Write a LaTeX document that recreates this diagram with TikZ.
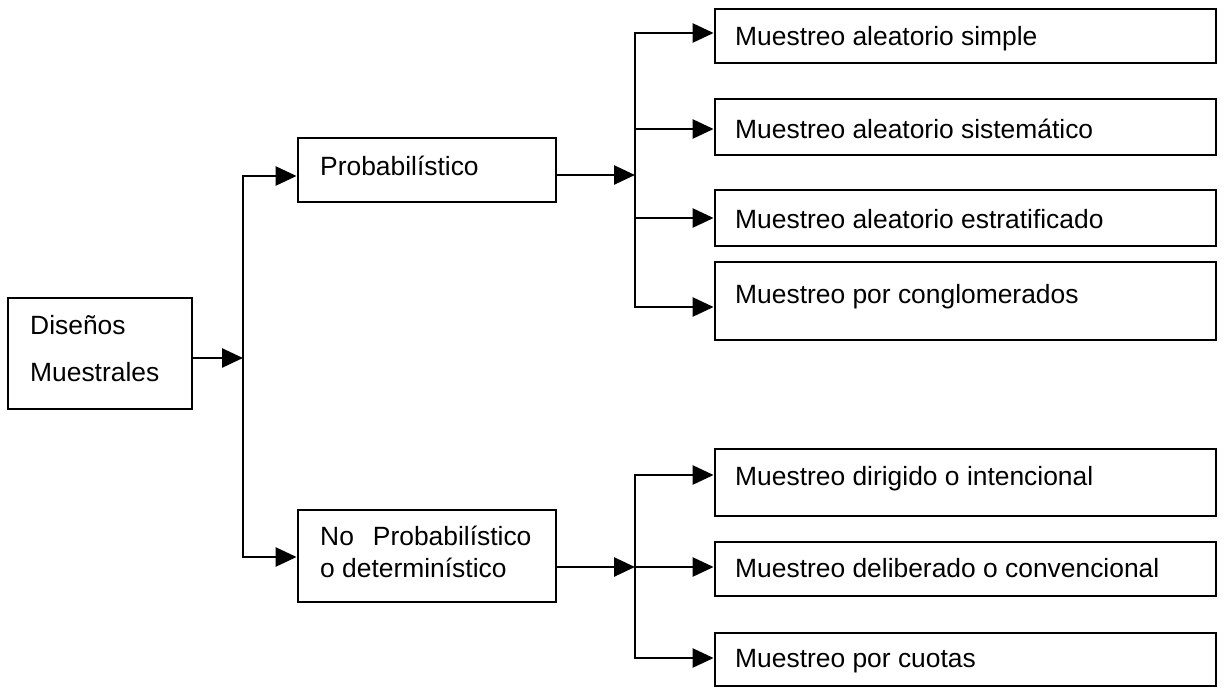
\documentclass[tikz,border=0pt]{standalone}
\usepackage{fontspec}
\setmainfont{Liberation Sans}
\usetikzlibrary{arrows.meta}

\tikzset{
  box/.style={draw=black, line width=2.8pt, inner sep=0pt, anchor=center},
  lbl/.style={font=\fontsize{26.4}{32}\selectfont, inner sep=0pt, anchor=base west},
  wire/.style={draw=black, line width=2.6pt},
  tip/.tip={Triangle[length=21pt,width=19pt]},
  arr/.style={wire, -tip},
  arrs/.style={wire, tip-tip}
}

\begin{document}
\begin{tikzpicture}[x=1pt,y=-1pt]
\useasboundingbox (0,0) rectangle (1231,688);

% root
\node[box, minimum width=184pt, minimum height=111pt] (D) at (100,353.5) {};
\node[lbl] (Dt1) at (30,334) {Diseños};
\node[lbl] (Dt2) at (30,381) {Muestrales};

% second level
\node[box, minimum width=258pt, minimum height=64pt] (P) at (427,170) {};
\node[lbl] (Pt) at (320,175) {Probabilístico};
\node[box, minimum width=258pt, minimum height=92pt] (N) at (427,556) {};
\node[lbl] (Nt1) at (320,545) {No\hspace{19pt}Probabilístico};
\node[lbl] (Nt2) at (320,577) {o determinístico};

% probabilistic designs
\node[box, minimum width=501pt, minimum height=54pt] (B1) at (965.5,36) {};
\node[lbl] (B1t) at (735,45) {Muestreo aleatorio simple};
\node[box, minimum width=501pt, minimum height=56pt] (B2) at (965.5,127) {};
\node[lbl] (B2t) at (735,138) {Muestreo aleatorio sistemático};
\node[box, minimum width=501pt, minimum height=56pt] (B3) at (965.5,218) {};
\node[lbl] (B3t) at (735,228) {Muestreo aleatorio estratificado};
\node[box, minimum width=501pt, minimum height=78pt] (B4) at (965.5,301) {};
\node[lbl] (B4t) at (735,303) {Muestreo por conglomerados};

% non-probabilistic designs
\node[box, minimum width=501pt, minimum height=67pt] (B5) at (965.5,482.5) {};
\node[lbl] (B5t) at (735,485) {Muestreo dirigido o intencional};
\node[box, minimum width=501pt, minimum height=54pt] (B6) at (965.5,569) {};
\node[lbl] (B6t) at (735,577) {Muestreo deliberado o convencional};
\node[box, minimum width=501pt, minimum height=53pt] (B7) at (965.5,659.5) {};
\node[lbl] (B7t) at (735,667) {Muestreo por cuotas};

% junction points
\coordinate (j0) at (243,358);
\coordinate (jP) at (243,176);
\coordinate (jN) at (243,557);
\coordinate (k0) at (635,175);
\coordinate (k1) at (635,33);
\coordinate (k2) at (635,129);
\coordinate (k3) at (635,218);
\coordinate (k4) at (635,307);
\coordinate (m0) at (635,567);
\coordinate (m1) at (635,475);
\coordinate (m3) at (635,658);

% root to second level
\draw[arr] (D.east |- j0) -- (j0);
\draw[arrs] (jP -| P.west) -- (jP) -- (jN) -- (jN -| N.west);

% probabilistic branch
\draw[arr] (P.east |- k0) -- (k0);
\draw[arrs] (k1 -| B1.west) -- (k1) -- (k4) -- (k4 -| B4.west);
\draw[arr] (k2) -- (k2 -| B2.west);
\draw[arr] (k3) -- (k3 -| B3.west);

% non-probabilistic branch
\draw[arr] (N.east |- m0) -- (m0);
\draw[arrs] (m1 -| B5.west) -- (m1) -- (m3) -- (m3 -| B7.west);
\draw[arr] (m0) -- (m0 -| B6.west);
\end{tikzpicture}
\end{document}
